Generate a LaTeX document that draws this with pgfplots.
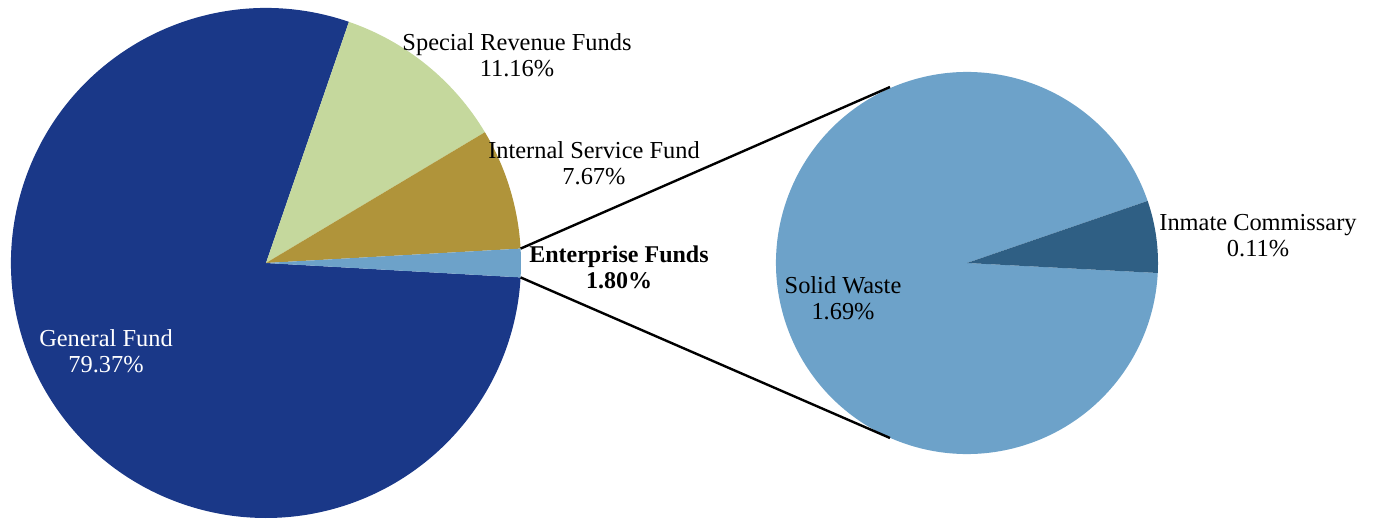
\documentclass[border=0pt]{standalone}
\usepackage{pgfplots}
\usepackage{pgfplotstable}
\pgfplotsset{compat=1.18}
\usepackage{fontspec}
\setmainfont{Liberation Serif}

\definecolor{genfund}{HTML}{1A3888}
\definecolor{specrev}{HTML}{C5D89D}
\definecolor{intserv}{HTML}{B0943A}
\definecolor{enterp}{HTML}{6DA2C9}
\definecolor{inmate}{HTML}{2F5F84}

% shares in percent
\pgfplotstableread{
name value
General 79.37
Special 11.16
Internal 7.67
Enterprise 1.80
}\maintab
\pgfplotstableread{
name value
Solid 1.69
Inmate 0.11
}\subtab

\pgfplotstablegetelem{0}{value}\of\maintab \let\vGen\pgfplotsretval
\pgfplotstablegetelem{1}{value}\of\maintab \let\vSpe\pgfplotsretval
\pgfplotstablegetelem{2}{value}\of\maintab \let\vInt\pgfplotsretval
\pgfplotstablegetelem{3}{value}\of\maintab \let\vEnt\pgfplotsretval
\pgfplotstablegetelem{0}{value}\of\subtab \let\vSol\pgfplotsretval
\pgfplotstablegetelem{1}{value}\of\subtab \let\vInm\pgfplotsretval

% main pie: enterprise slice centred on 0 deg, the rest counter-clockwise
\pgfmathsetmacro\aA{-\vEnt*1.8}
\pgfmathsetmacro\aB{\vEnt*1.8}
\pgfmathsetmacro\aC{\aB+\vInt*3.6}
\pgfmathsetmacro\aD{\aC+\vSpe*3.6}
\pgfmathsetmacro\aE{\aD+\vGen*3.6}
% second pie: share of the enterprise funds
\pgfmathsetmacro\bA{-3}
\pgfmathsetmacro\bB{\bA+\vInm/\vEnt*360}
\pgfmathsetmacro\bC{\bA+360}
% connector ends
\pgfmathsetmacro\pxA{266+255*cos(\aB)}
\pgfmathsetmacro\pyA{257+255*sin(\aB)}
\pgfmathsetmacro\pxB{266+255*cos(\aA)}
\pgfmathsetmacro\pyB{257+255*sin(\aA)}

\begin{document}
\begin{tikzpicture}[lbl/.style={font=\fontsize{12.2}{13}\selectfont, align=center, inner sep=0pt}]
\begin{axis}[
  x=0.5pt, y=0.5pt,
  xmin=0, xmax=1374, ymin=0, ymax=520,
  scale only axis, hide axis, clip=false,
]
  % main pie
  \fill[genfund] (axis cs:266,257) -- ++(\aD:127.5pt) arc[start angle=\aD, end angle=\aE, radius=127.5pt] -- cycle;
  \fill[specrev] (axis cs:266,257) -- ++(\aC:127.5pt) arc[start angle=\aC, end angle=\aD, radius=127.5pt] -- cycle;
  \fill[intserv] (axis cs:266,257) -- ++(\aB:127.5pt) arc[start angle=\aB, end angle=\aC, radius=127.5pt] -- cycle;
  \fill[enterp]  (axis cs:266,257) -- ++(\aA:127.5pt) arc[start angle=\aA, end angle=\aB, radius=127.5pt] -- cycle;
  % second pie
  \fill[enterp] (axis cs:967,257) -- ++(\bB:95.5pt) arc[start angle=\bB, end angle=\bC, radius=95.5pt] -- cycle;
  \fill[inmate] (axis cs:967,257) -- ++(\bA:95.5pt) arc[start angle=\bA, end angle=\bB, radius=95.5pt] -- cycle;
  % connectors
  \draw[line width=1.2pt] (axis cs:\pxA,\pyA) -- (axis cs:890,433);
  \draw[line width=1.2pt] (axis cs:\pxB,\pyB) -- (axis cs:890,82);
  % labels
  \node[lbl] at (axis cs:517,465) {Special Revenue Funds\\11.16\%};
  \node[lbl] at (axis cs:594,357) {Internal Service Fund\\7.67\%};
  \node[lbl, font=\fontsize{12}{13}\selectfont\bfseries] at (axis cs:619,253) {Enterprise Funds\\1.80\%};
  \node[lbl] at (axis cs:1258,284) {Inmate Commissary\\0.11\%};
  \node[lbl] at (axis cs:843,222) {Solid Waste\\1.69\%};
  \node[lbl, text=white] at (axis cs:106,169) {General Fund\\79.37\%};
\end{axis}
\pgfresetboundingbox
\useasboundingbox (current axis.south west) rectangle (current axis.north east);
\end{tikzpicture}
\end{document}
